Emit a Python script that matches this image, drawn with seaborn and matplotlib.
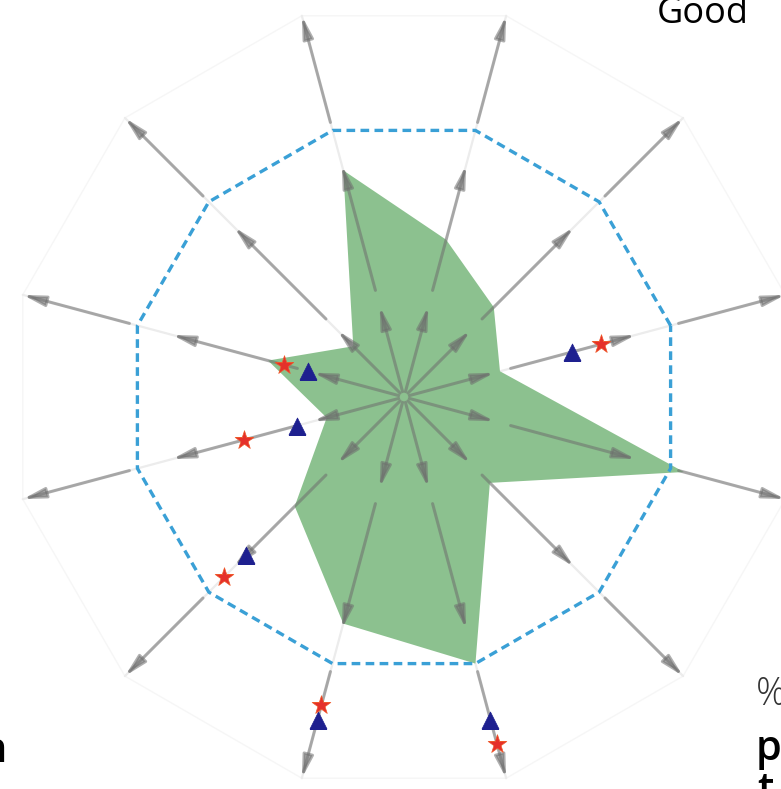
import numpy as np
import pandas as pd
import seaborn as sns
import matplotlib.pyplot as plt

# 12 spokes of the radar, values relative to the dashed reference ring (=1)
spoke_deg = [15, 45, 75, 105, 135, 165, 195, 225, 255, 285, 315, 345]
score = [0.36, 0.46, 0.59, 0.85, 0.26, 0.51, 0.29, 0.56, 0.85, 1.00, 0.44, 1.05]
reference = [1.0] * 12
outer_ring = [1.43] * 12

# spokes that carry the two comparison markers
mark_deg = [15, 165, 195, 225, 255, 285]
triangle_r = [0.63, 0.36, 0.40, 0.81, 1.21, 1.21]
star_r = [0.74, 0.45, 0.60, 0.92, 1.155, 1.30]

# arrow pieces drawn along every spoke (start, end)
arrow_pieces = [(0.02, 0.34), (0.40, 0.87), (1.03, 1.43)]

sns.set_style('white')
plt.rcParams['font.family'] = ['Open Sans', 'DejaVu Sans']

fig = plt.figure(figsize=(7.81, 7.89), dpi=100, facecolor='w')
# polar axes centred on the radar centre, 276 px per unit
ax = fig.add_axes([0, -12 / 789, 808 / 781, 808 / 789], projection='polar')
ax.set_ylim(0, 404 / 276)

theta = np.deg2rad(spoke_deg)
closed_theta = np.append(theta, theta[0] + 2 * np.pi)

# very faint outer ring and faint full spokes
ax.plot(closed_theta, np.append(outer_ring, outer_ring[0]), color='#f6f6f6', lw=1, zorder=0)
for t in theta:
    ax.plot([t, t], [0.02, 1.43], color='#ececec', lw=1.6, zorder=0)

# green score area
ax.fill(closed_theta, np.append(score, score[0]), color='#8cc18f', lw=0, zorder=1)

# gray arrows
for t in theta:
    for r0, r1 in arrow_pieces:
        ax.annotate('', xy=(t, r1), xytext=(t, r0),
                    arrowprops=dict(arrowstyle='-|>,head_length=1.1,head_width=0.26',
                                    color='#6e6e6e', alpha=0.55, lw=2.2,
                                    mutation_scale=12, shrinkA=0, shrinkB=0),
                    zorder=2)

# dashed reference ring
ring = pd.DataFrame({'theta': closed_theta, 'r': np.append(reference, reference[0])})
sns.lineplot(data=ring, x='theta', y='r', sort=False, color='#3aa0d6', lw=2.4,
             linestyle=(0, (2.6, 1.6)), ax=ax, zorder=3)

marks = pd.DataFrame({'theta': np.deg2rad(mark_deg), 'tri': triangle_r, 'star': star_r})
sns.scatterplot(data=marks, x='theta', y='tri', marker='^', s=150, color='#1e208f',
                edgecolor='#1e208f', linewidth=0.5, ax=ax, zorder=4)
sns.scatterplot(data=marks, x='theta', y='star', marker='*', s=200, color='#e5302a',
                edgecolor='#ef5a2a', linewidth=0.5, ax=ax, zorder=5)

ax.grid(False)
ax.set_xticks([])
ax.set_yticks([])
ax.set_xlabel('')
ax.set_ylabel('')
ax.spines['polar'].set_visible(False)

# fragments of surrounding labels
fig.text(657 / 781, 1 - 23 / 789, 'Good', fontsize=26, va='baseline', ha='left', color='black')
fig.text(756 / 781, 1 - 705 / 789, '%', fontsize=27, va='baseline', ha='left',
         color='#333333', fontweight='light')
fig.text(756 / 781, 1 - 760 / 789, 'p', fontsize=30, va='baseline', ha='left',
         color='black', fontweight='semibold')
fig.text(757 / 781, 1 - 802 / 789, 't', fontsize=30, va='baseline', ha='left',
         color='black', fontweight='semibold')
fig.text(7 / 781, 1 - 762 / 789, 'n', fontsize=30, va='baseline', ha='right',
         color='black', fontweight='semibold')

fig.savefig('out.png', dpi=100, facecolor='w')
